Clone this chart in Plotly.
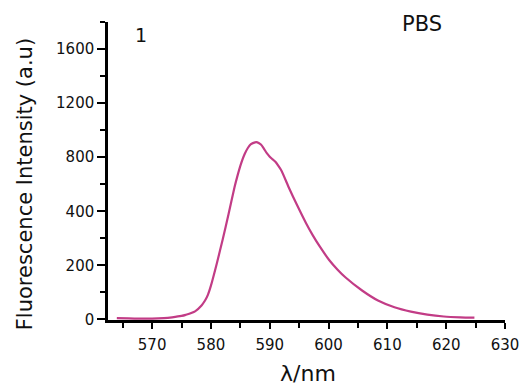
import plotly.graph_objects as go

# wavelength (nm) and intensity (plotted in axis position units, 200 per labelled step)
wavelength = [564.0, 566.0, 568.0, 570.0, 572.0, 573.4, 575.0, 575.7, 577.3, 578.4, 579.0,
              579.5, 580.0, 581.0, 582.0, 583.0, 584.0, 584.5, 585.0, 585.7, 586.3, 586.8,
              587.5, 587.9, 588.5, 589.0, 589.5, 590.0, 590.5, 591.0, 591.5, 592.0,
              593.2, 594.6, 596.2, 597.3, 598.5, 600.1, 601.5, 602.9, 605.7, 608.4,
              611.2, 614.0, 616.8, 619.6, 622.4, 624.8]
intensity = [5, 4, 3, 3, 5, 8, 13, 17, 30, 52, 70,
             92, 125, 207, 296, 390, 488, 530, 568, 610, 635, 648,
             655, 655, 647, 632, 615, 602, 592, 582, 567, 550,
             490, 425, 355, 312, 270, 220, 185, 155, 107, 70,
             45, 29, 18, 11, 8, 7]

ytick_vals = [0, 200, 400, 600, 800, 1000]
ytick_text = ["0", "200", "400", "800", "1200", "1600"]
xtick_vals = [570, 580, 590, 600, 610, 620, 630]

FONT = "DejaVu Sans"
TXT = "#111111"

fig = go.Figure()
fig.add_trace(go.Scatter(
    x=wavelength, y=intensity, mode="lines",
    line=dict(color="#c23c86", width=2.2, shape="spline", smoothing=0.7),
    showlegend=False, hoverinfo="skip"))

fig.update_layout(
    width=531, height=391,
    margin=dict(l=108, r=18, t=22, b=71),
    paper_bgcolor="white", plot_bgcolor="white",
    font=dict(family=FONT, color=TXT),
    xaxis=dict(range=[562.5, 630], tickvals=xtick_vals,
               showline=True, linecolor="black", linewidth=2.5,
               ticks="outside", ticklen=6, tickwidth=1.5, tickcolor="black",
               showgrid=False, zeroline=False, ticklabelstandoff=3,
               tickfont=dict(family=FONT, size=15, color=TXT),
               minor=dict(dtick=5, tick0=565, ticks="outside", ticklen=5,
                          tickwidth=1.5, tickcolor="black", showgrid=False)),
    yaxis=dict(range=[-2, 1100], tickvals=ytick_vals, ticktext=ytick_text,
               showline=True, linecolor="black", linewidth=2.5,
               ticks="outside", ticklen=8, tickwidth=1.5, tickcolor="black",
               showgrid=False, zeroline=False,
               tickfont=dict(family=FONT, size=15, color=TXT),
               minor=dict(dtick=100, tick0=100, ticks="outside", ticklen=5,
                          tickwidth=1.5, tickcolor="black", showgrid=False)),
    annotations=[
        dict(text="1", x=0.083, y=0.956, xref="paper", yref="paper",
             xanchor="center", yanchor="middle",
             showarrow=False, font=dict(family=FONT, size=19, color=TXT)),
        dict(text="PBS", x=0.79, y=0.993, xref="paper", yref="paper",
             xanchor="center", yanchor="middle",
             showarrow=False, font=dict(family=FONT, size=21, color=TXT)),
        dict(text="Fluorescence Intensity (a.u)", x=-0.207, y=0.455,
             xref="paper", yref="paper", textangle=-90, showarrow=False,
             xanchor="center", yanchor="middle",
             font=dict(family=FONT, size=21, color=TXT)),
        dict(text="λ/nm", x=0.503, y=-0.181, xref="paper", yref="paper",
             showarrow=False, xanchor="center", yanchor="middle",
             font=dict(family=FONT, size=22, color=TXT)),
    ],
)

fig.write_html("out.html")
